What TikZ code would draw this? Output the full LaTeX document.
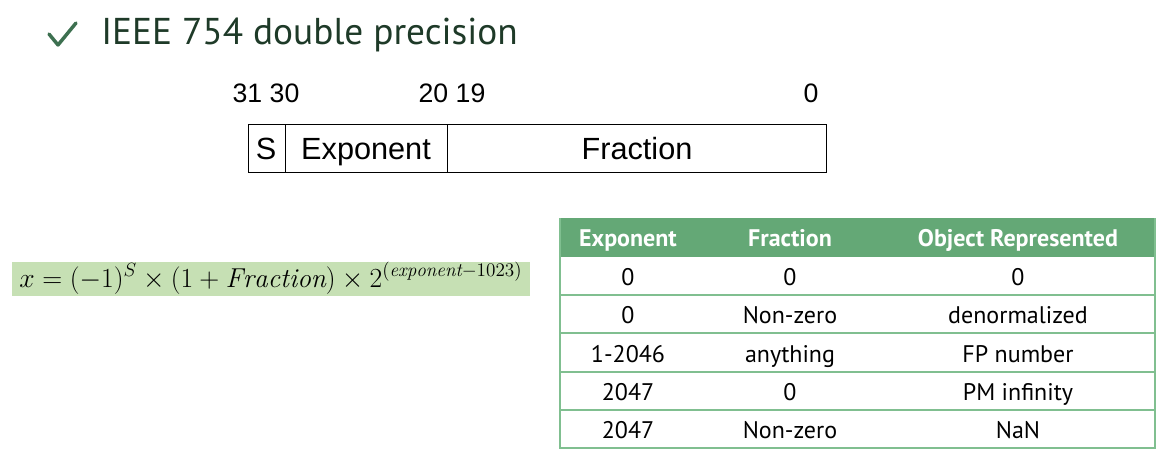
\documentclass[tikz,border=0pt]{standalone}
\usepackage{fontspec}
\setsansfont{Liberation Sans}
\newfontfamily\titlefont{PT Sans}
\newfontfamily\tabfont{PT Sans}
\definecolor{ckgreen}{HTML}{3D7050}
\definecolor{titlegreen}{HTML}{1E3A28}
\definecolor{hdrgreen}{HTML}{64A876}
\definecolor{linegreen}{HTML}{80BF90}
\definecolor{formbg}{HTML}{C6E0B4}
\begin{document}
\begin{tikzpicture}[x=0.75pt,y=-0.75pt,
  bitlbl/.style={font=\sffamily\fontsize{20}{24}\selectfont,anchor=base,inner sep=0pt},
  fieldbox/.style={draw=black,line width=0.9pt,minimum height=48*0.75pt,inner sep=0pt},
  fieldtxt/.style={font=\sffamily\fontsize{23}{26}\selectfont,anchor=base,inner sep=0pt},
  hdr/.style={font=\tabfont\bfseries\fontsize{18}{21}\selectfont,text=white,inner sep=0pt,anchor=base},
  cell/.style={font=\tabfont\fontsize{18}{21}\selectfont,text=black,inner sep=0pt,anchor=base},
  rowline/.style={draw=linegreen,line width=1.2pt}]
\useasboundingbox (0,0) rectangle (1174,460);
% title
\coordinate (ck1) at (49,34);
\coordinate (ck2) at (58,45);
\coordinate (ck3) at (76,23);
\draw[ckgreen,line width=2.6pt,line cap=round,line join=round] (ck1) -- (ck2) -- (ck3);
\node[anchor=base west,inner sep=0pt,text=titlegreen,font=\titlefont\fontsize{28}{32}\selectfont] (title) at (101,45) {IEEE 754 double precision};
% bit labels
\node[bitlbl] (b31) at (266,103) {31 30};
\node[bitlbl] (b20) at (452,103) {20 19};
\node[bitlbl] (b0) at (811,103) {0};
% fields
\node[fieldbox,minimum width=37*0.75pt,anchor=north west] (fs) at (248,124) {};
\node[fieldbox,minimum width=162*0.75pt,anchor=north west] (fe) at (285,124) {};
\node[fieldbox,minimum width=379*0.75pt,anchor=north west] (ff) at (447,124) {};
\node[fieldtxt] (ts) at (266,159) {S};
\node[fieldtxt] (te) at (366,159) {Exponent};
\node[fieldtxt] (tf) at (637,159) {Fraction};
% formula
\node[fill=formbg,minimum width=518*0.75pt,minimum height=34*0.75pt,inner sep=0pt,anchor=north west] (fbg) at (12,262) {};
\node[anchor=base west,inner sep=0pt,font=\fontsize{20.5}{24}\selectfont] (formula) at (19,287) {$x=(-1)^{S}\times(1+\mathit{Fraction})\times2^{(\mathit{exponent}-1023)}$};
% table
\fill[hdrgreen] (560,218) rectangle (1155,257);
\node[hdr] (h1) at (628,246) {Exponent};
\node[hdr] (h2) at (790,246) {Fraction};
\node[hdr] (h3) at (1018,246) {Object Represented};
\draw[rowline] (560,295) -- (1155,295);
\draw[rowline] (560,333) -- (1155,333);
\draw[rowline] (560,372) -- (1155,372);
\draw[rowline] (560,410) -- (1155,410);
\draw[rowline] (560,218) -- (560,448) -- (1155,448) -- (1155,218);
\node[cell] (r11) at (628,285) {0};
\node[cell] (r12) at (790,285) {0};
\node[cell] (r13) at (1018,285) {0};
\node[cell] (r21) at (628,323) {0};
\node[cell] (r22) at (790,323) {Non-zero};
\node[cell] (r23) at (1018,323) {denormalized};
\node[cell] (r31) at (628,362) {1-2046};
\node[cell] (r32) at (790,362) {anything};
\node[cell] (r33) at (1018,362) {FP number};
\node[cell] (r41) at (628,400) {2047};
\node[cell] (r42) at (790,400) {0};
\node[cell] (r43) at (1018,400) {PM infinity};
\node[cell] (r51) at (628,438) {2047};
\node[cell] (r52) at (790,438) {Non-zero};
\node[cell] (r53) at (1018,438) {NaN};
\end{tikzpicture}
\end{document}
